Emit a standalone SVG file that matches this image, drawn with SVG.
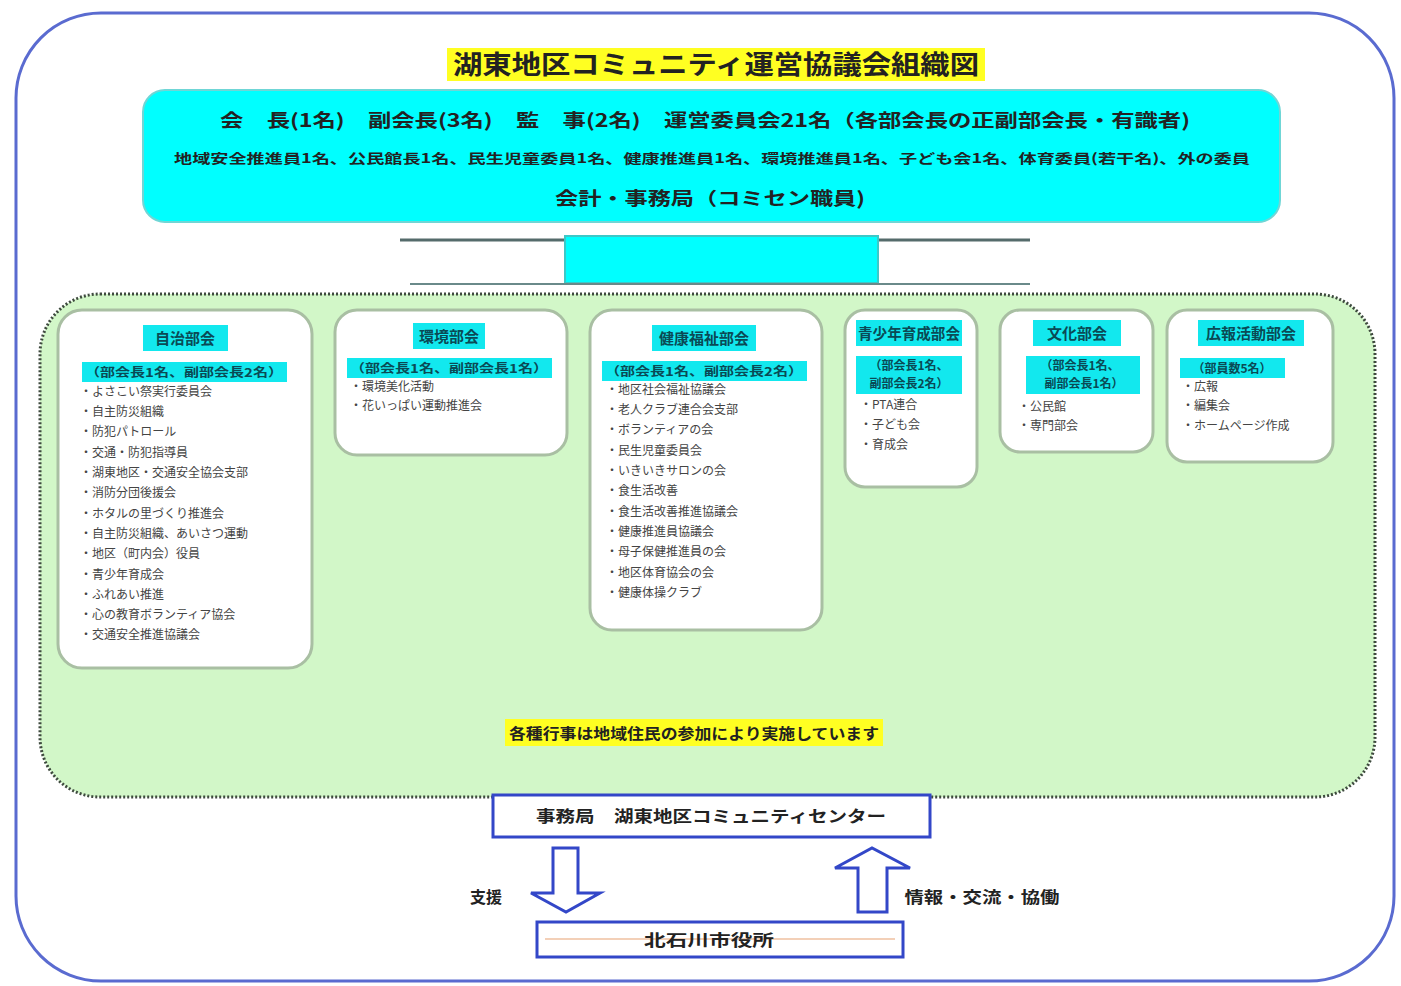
<svg xmlns="http://www.w3.org/2000/svg" width="1401" height="986" viewBox="0 0 1401 986">
<style>
text{font-family:"Noto Sans CJK JP","Liberation Sans",sans-serif;fill:#222}
.b{font-weight:bold}
.sec{fill:#ffffff;stroke:#a9bfa3;stroke-width:3}
.hl{fill:#12e8ee}
.item{font-size:12px;fill:#444}
.hd{font-size:15px;font-weight:bold;fill:#0a4a55}
.sub{font-size:12px;font-weight:bold;fill:#0a4a55}
.arr{fill:#ffffff;stroke:#3347c8;stroke-width:3}
</style>
<rect x="0" y="0" width="1401" height="986" fill="#ffffff"/>
<rect x="16" y="13" width="1378" height="968" rx="85" fill="#ffffff" stroke="#5a6bd0" stroke-width="3"/>
<g id="title">
<rect x="447" y="48" width="538" height="33" fill="#ffff22"/>
<text x="716" y="74" text-anchor="middle" class="b" font-size="26" textLength="526" lengthAdjust="spacingAndGlyphs">湖東地区コミュニティ運営協議会組織図</text>
</g>
<g id="council">
<rect x="143" y="90" width="1137" height="132" rx="22" fill="#00ffff" stroke="#6fd6d6" stroke-width="2"/>
<text x="705" y="127" text-anchor="middle" class="b" font-size="18" fill="#1a5560" textLength="970" lengthAdjust="spacingAndGlyphs">会　長(1名)　副会長(3名)　監　事(2名)　運営委員会21名（各部会長の正副部会長・有識者)</text>
<text x="712" y="163" text-anchor="middle" class="b" font-size="13" textLength="1076" lengthAdjust="spacingAndGlyphs">地域安全推進員1名、公民館長1名、民生児童委員1名、健康推進員1名、環境推進員1名、子ども会1名、体育委員(若干名)、外の委員</text>
<text x="710" y="205" text-anchor="middle" class="b" font-size="18" textLength="310" lengthAdjust="spacingAndGlyphs">会計・事務局（コミセン職員)</text>
</g>
<g id="connectors">
<line x1="400" y1="240" x2="1030" y2="240" stroke="#556b6b" stroke-width="3"/>
<rect x="565" y="236" width="313" height="47" fill="#00ffff" stroke="#3cc8c8" stroke-width="2"/>
<line x1="410" y1="284" x2="1030" y2="284" stroke="#6a8a8a" stroke-width="2"/>
<path class="arr" d="M553,848 H578 V893 H600 L566,912 L531,893 H553 Z"/>
<path class="arr" d="M858,912 H887 V868 H910 L872,848 L835,868 H858 Z"/>
</g>
<g id="sections">
<rect x="40" y="294" width="1335" height="503" rx="60" fill="#d2f7c8" stroke="#3e4a3e" stroke-width="3" stroke-dasharray="2,2"/>
<rect x="505" y="719" width="378" height="27" fill="#ffff22"/>
<text x="694" y="739" text-anchor="middle" class="b" font-size="15" fill="#4a4a10" textLength="370" lengthAdjust="spacingAndGlyphs">各種行事は地域住民の参加により実施しています</text>
</g>
<g id="sec1">
<rect class="sec" x="58" y="310" width="254" height="358" rx="24"/>
<rect class="hl" x="143" y="325" width="85" height="26"/>
<text x="185" y="344" text-anchor="middle" class="hd">自治部会</text>
<rect class="hl" x="82" y="362" width="205" height="20"/>
<text x="184" y="377" text-anchor="middle" class="sub" textLength="198" lengthAdjust="spacingAndGlyphs">（部会長1名、副部会長2名）</text>
<g class="item">
<text x="80" y="396" class="item">・よさこい祭実行委員会</text>
<text x="80" y="416" class="item">・自主防災組織</text>
<text x="80" y="436" class="item">・防犯パトロール</text>
<text x="80" y="457" class="item">・交通・防犯指導員</text>
<text x="80" y="477" class="item">・湖東地区・交通安全協会支部</text>
<text x="80" y="497" class="item">・消防分団後援会</text>
<text x="80" y="518" class="item">・ホタルの里づくり推進会</text>
<text x="80" y="538" class="item">・自主防災組織、あいさつ運動</text>
<text x="80" y="558" class="item">・地区（町内会）役員</text>
<text x="80" y="579" class="item">・青少年育成会</text>
<text x="80" y="599" class="item">・ふれあい推進</text>
<text x="80" y="619" class="item">・心の教育ボランティア協会</text>
<text x="80" y="639" class="item">・交通安全推進協議会</text>
</g>
</g>
<g id="sec2">
<rect class="sec" x="335" y="310" width="232" height="145" rx="22"/>
<rect class="hl" x="413" y="323" width="72" height="26"/>
<text x="449" y="342" text-anchor="middle" class="hd">環境部会</text>
<rect class="hl" x="347" y="358" width="205" height="20"/>
<text x="449" y="373" text-anchor="middle" class="sub" textLength="198" lengthAdjust="spacingAndGlyphs">（部会長1名、副部会長1名）</text>
<text x="350" y="391" class="item">・環境美化活動</text>
<text x="350" y="410" class="item">・花いっぱい運動推進会</text>
</g>
<g id="sec3">
<rect class="sec" x="590" y="310" width="232" height="320" rx="22"/>
<rect class="hl" x="652" y="325" width="104" height="26"/>
<text x="704" y="344" text-anchor="middle" class="hd">健康福祉部会</text>
<rect class="hl" x="602" y="361" width="205" height="20"/>
<text x="704" y="376" text-anchor="middle" class="sub" textLength="198" lengthAdjust="spacingAndGlyphs">（部会長1名、副部会長2名）</text>
<text x="606" y="394" class="item">・地区社会福祉協議会</text>
<text x="606" y="414" class="item">・老人クラブ連合会支部</text>
<text x="606" y="434" class="item">・ボランティアの会</text>
<text x="606" y="455" class="item">・民生児童委員会</text>
<text x="606" y="475" class="item">・いきいきサロンの会</text>
<text x="606" y="495" class="item">・食生活改善</text>
<text x="606" y="516" class="item">・食生活改善推進協議会</text>
<text x="606" y="536" class="item">・健康推進員協議会</text>
<text x="606" y="556" class="item">・母子保健推進員の会</text>
<text x="606" y="577" class="item">・地区体育協会の会</text>
<text x="606" y="597" class="item">・健康体操クラブ</text>
</g>
<g id="sec4">
<rect class="sec" x="845" y="310" width="132" height="177" rx="20"/>
<rect class="hl" x="856" y="320" width="106" height="26"/>
<text x="909" y="339" text-anchor="middle" class="hd" textLength="102" lengthAdjust="spacingAndGlyphs">青少年育成部会</text>
<rect class="hl" x="856" y="356" width="106" height="38"/>
<text x="909" y="370" text-anchor="middle" class="sub">（部会長1名、</text>
<text x="909" y="388" text-anchor="middle" class="sub">副部会長2名）</text>
<text x="860" y="409" class="item">・PTA連合</text>
<text x="860" y="429" class="item">・子ども会</text>
<text x="860" y="449" class="item">・育成会</text>
</g>
<g id="sec5">
<rect class="sec" x="1000" y="310" width="153" height="142" rx="20"/>
<rect class="hl" x="1033" y="320" width="88" height="26"/>
<text x="1077" y="339" text-anchor="middle" class="hd">文化部会</text>
<rect class="hl" x="1026" y="356" width="114" height="38"/>
<text x="1080" y="370" text-anchor="middle" class="sub">（部会長1名、</text>
<text x="1084" y="388" text-anchor="middle" class="sub">副部会長1名）</text>
<text x="1018" y="411" class="item">・公民館</text>
<text x="1018" y="430" class="item">・専門部会</text>
</g>
<g id="sec6">
<rect class="sec" x="1167" y="310" width="166" height="152" rx="20"/>
<rect class="hl" x="1198" y="320" width="106" height="26"/>
<text x="1251" y="339" text-anchor="middle" class="hd">広報活動部会</text>
<rect class="hl" x="1180" y="358" width="105" height="20"/>
<text x="1232" y="373" text-anchor="middle" class="sub">（部員数5名）</text>
<text x="1182" y="391" class="item">・広報</text>
<text x="1182" y="410" class="item">・編集会</text>
<text x="1182" y="430" class="item">・ホームページ作成</text>
</g>
<g id="office">
<rect x="493" y="795" width="437" height="42" fill="#ffffff" stroke="#3347c8" stroke-width="3"/>
<text x="711" y="822" text-anchor="middle" class="b" font-size="16" textLength="350" lengthAdjust="spacingAndGlyphs">事務局　湖東地区コミュニティセンター</text>
</g>
<g id="labels">
<text x="486" y="903" text-anchor="middle" class="b" font-size="16">支援</text>
<text x="982" y="903" text-anchor="middle" class="b" font-size="16" textLength="155" lengthAdjust="spacingAndGlyphs">情報・交流・協働</text>
</g>
<g id="city">
<rect x="537" y="922" width="366" height="35" fill="#ffffff" stroke="#3347c8" stroke-width="3"/>
<line x1="545" y1="939" x2="895" y2="939" stroke="#f3d0b8" stroke-width="2"/>
<text x="709" y="946" text-anchor="middle" class="b" font-size="16" textLength="130" lengthAdjust="spacingAndGlyphs">北石川市役所</text>
</g>
</svg>
